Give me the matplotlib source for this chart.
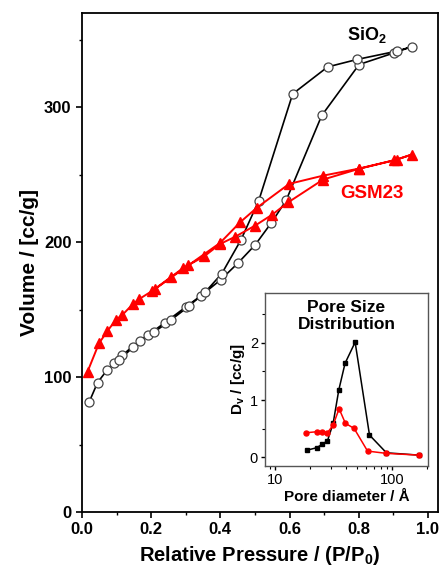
import matplotlib
matplotlib.use("Agg")
import matplotlib.pyplot as plt

plt.rcParams["font.family"] = ["Liberation Sans", "DejaVu Sans"]
plt.rcParams["mathtext.fontset"] = "custom"
plt.rcParams["mathtext.rm"] = "Liberation Sans"
plt.rcParams["mathtext.bf"] = "Liberation Sans:bold"

# N2 isotherms: adsorption then desorption branch, P/P0 vs volume (cc/g)
sio2_p = [0.021, 0.045, 0.073, 0.093, 0.117, 0.146, 0.192, 0.240, 0.300, 0.344,
          0.401, 0.451, 0.501, 0.547, 0.590, 0.693, 0.801, 0.903, 0.953,
          0.910, 0.796, 0.710, 0.609, 0.511, 0.460, 0.404, 0.357, 0.308,
          0.258, 0.207, 0.168, 0.108]
sio2_v = [81.7, 96.0, 105.4, 110.4, 116.3, 122.7, 131.4, 140.5, 152.0, 160.4,
          172.2, 184.6, 198.2, 214.3, 231.0, 294.0, 331.8, 340.5, 345.0,
          341.7, 335.6, 330.0, 310.0, 230.9, 202.0, 176.7, 163.3, 152.4,
          142.5, 133.1, 127.0, 112.8]

gsm_p = [0.016, 0.049, 0.073, 0.098, 0.117, 0.148, 0.166, 0.201, 0.256, 0.293,
         0.353, 0.399, 0.442, 0.500, 0.550, 0.596, 0.697, 0.800, 0.903, 0.953,
         0.910, 0.800, 0.697, 0.599, 0.505, 0.457, 0.399, 0.307, 0.211]
gsm_v = [104.0, 125.0, 134.0, 142.5, 146.2, 154.4, 158.0, 163.6, 174.0, 181.0,
         189.5, 198.7, 204.0, 212.3, 220.5, 229.6, 246.5, 254.4, 260.8, 265.0,
         261.3, 254.6, 249.4, 243.3, 225.5, 214.8, 199.5, 182.8, 165.3]

# pore size distribution (BJH)
psd_d_sio2 = [18.8, 22.6, 25.2, 28.0, 31.3, 35.0, 39.6, 48.3, 64.1, 89.5, 169]
psd_v_sio2 = [0.127, 0.168, 0.227, 0.29, 0.593, 1.175, 1.64, 2.007, 0.389, 0.08, 0.04]
psd_d_gsm = [18.5, 22.6, 25.2, 28.0, 31.3, 35.2, 39.9, 47.3, 61.7, 89.5, 169]
psd_v_gsm = [0.43, 0.447, 0.436, 0.43, 0.563, 0.848, 0.593, 0.506, 0.11, 0.07, 0.04]

fig = plt.figure(figsize=(4.42, 5.72), dpi=100)
ax = fig.add_axes([0.1855, 0.1049, 0.8054, 0.8724])

ax.plot(sio2_p, sio2_v, color="black", lw=1.2, marker="o", ms=6.5,
        mfc="white", mec="#444444", mew=0.9)
ax.plot(gsm_p, gsm_v, color="red", lw=1.4, marker="^", ms=6.8,
        mfc="red", mec="red")

ax.set_xlim(0, 1.029)
ax.set_ylim(0, 370)
ax.set_xticks([0.0, 0.2, 0.4, 0.6, 0.8, 1.0])
ax.set_xticks([0.1, 0.3, 0.5, 0.7, 0.9], minor=True)
ax.set_yticks([0, 100, 200, 300])
ax.set_yticks([50, 150, 250, 350], minor=True)
ax.tick_params(which="major", direction="out", length=4, width=1.2,
               labelsize=12)
ax.tick_params(which="minor", direction="out", length=2.5, width=1)
for lab in ax.get_xticklabels() + ax.get_yticklabels():
    lab.set_fontweight("bold")
for s in ax.spines.values():
    s.set_linewidth(1.3)

ax.set_xlabel(r"Relative Pressure / (P/P$\mathbf{_0}$)", fontsize=14.5,
              fontweight="bold", labelpad=5)
ax.set_ylabel("Volume / [cc/g]", fontsize=15, fontweight="bold", labelpad=4)

ax.text(0.766, 354, r"SiO$\mathbf{_2}$", fontsize=13, fontweight="bold",
        ha="left", va="center")
ax.text(0.746, 236, "GSM23", fontsize=13.5, fontweight="bold", color="red",
        ha="left", va="center")

# inset: pore size distribution
ins = fig.add_axes([0.5995, 0.1853, 0.3688, 0.3030])
ins.plot(psd_d_sio2, psd_v_sio2, color="black", lw=1.1, marker="s", ms=3.2)
ins.plot(psd_d_gsm, psd_v_gsm, color="red", lw=1.1, marker="o", ms=3.6)
ins.set_xscale("log")
ins.set_xlim(8.17, 203)
ins.set_ylim(-0.15, 2.87)
ins.set_xticks([10, 100])
ins.set_xticklabels(["10", "100"])
ins.set_yticks([0, 1, 2])
ins.set_yticks([0.5, 1.5, 2.5], minor=True)
ins.tick_params(which="major", direction="out", length=3, width=1,
                labelsize=10.5, pad=2)
ins.tick_params(which="minor", direction="out", length=2, width=0.8)
for s in ins.spines.values():
    s.set_linewidth(1.0)
    s.set_color("#555555")
ins.set_xlabel("Pore diameter / Å", fontsize=11, fontweight="bold",
               labelpad=2)
ins.set_ylabel(r"D$\mathbf{_v}$ / [cc/g]", fontsize=11, fontweight="bold",
               labelpad=2)
ins.text(0.5, 0.955, "Pore Size\nDistribution", transform=ins.transAxes,
         ha="center", va="top", fontsize=12.5, fontweight="bold",
         linespacing=1.1)

fig.savefig("out.png", dpi=100)
